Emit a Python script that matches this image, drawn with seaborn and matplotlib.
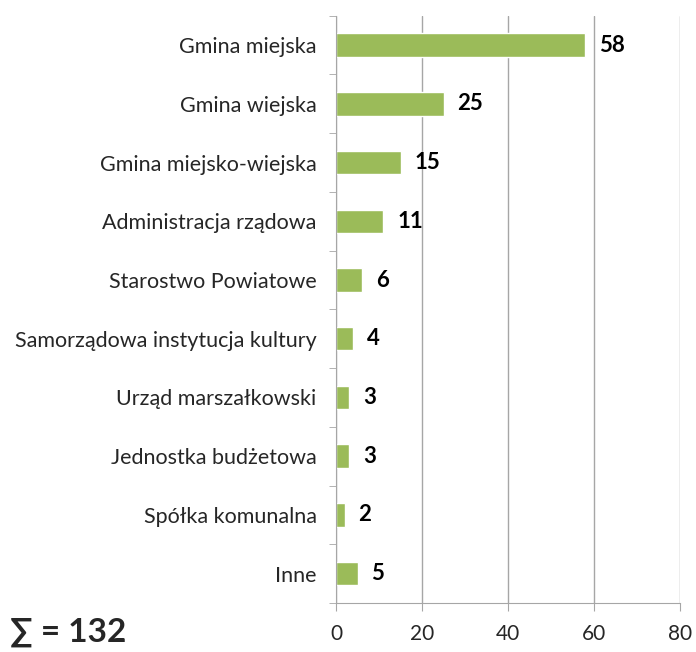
import pandas as pd
import seaborn as sns
import matplotlib.pyplot as plt

kategorie = ['Gmina miejska', 'Gmina wiejska', 'Gmina miejsko-wiejska',
             'Administracja rządowa', 'Starostwo Powiatowe',
             'Samorządowa instytucja kultury', 'Urząd marszałkowski',
             'Jednostka budżetowa', 'Spółka komunalna', 'Inne']
liczba = [58, 25, 15, 11, 6, 4, 3, 3, 2, 5]
x_ticks = [0, 20, 40, 60, 80]

sns.set_style('white')
plt.rcParams['font.family'] = ['Lato', 'DejaVu Sans']

df = pd.DataFrame({'kategoria': kategorie, 'liczba': liczba})

fig = plt.figure(figsize=(6.96, 6.52), dpi=100)
ax = fig.add_axes([0.483, 0.075, 0.494, 0.901])

sns.barplot(data=df, y='kategoria', x='liczba', orient='h', color='#9BBB59',
            saturation=1, width=0.4, ax=ax)

# etykiety wartości
for i, v in enumerate(liczba):
    ax.text(v + 3.2, i, str(v), va='center', ha='left',
            fontsize=16, fontweight='bold', color='black')

ax.set_xlim(0, 80)
ax.set_ylim(len(kategorie) - 0.5, -0.5)
ax.set_xticks(x_ticks)
ax.xaxis.grid(True, color='#A6A6A6', linewidth=1)
ax.set_axisbelow(True)
ax.set_xlabel('')
ax.set_ylabel('')

for s in ['top', 'right']:
    ax.spines[s].set_visible(False)
ax.spines['left'].set_color('#A6A6A6')
ax.spines['bottom'].set_color('#A6A6A6')

# podział kategorii na osi y
ax.set_yticks(range(len(kategorie)))
ax.set_yticklabels(kategorie, fontsize=15.5)
ax.set_yticks([i + 0.5 for i in range(-1, len(kategorie))], minor=True)
ax.tick_params(axis='y', which='major', length=0, pad=14)
ax.tick_params(axis='y', which='minor', length=5, color='#A6A6A6', left=True)
ax.tick_params(axis='x', length=6, color='#A6A6A6', labelsize=15, pad=9, bottom=True)

fig.text(0.015, 0.008, '∑ = 132', fontsize=24, fontweight='bold', ha='left', va='bottom')

fig.savefig('out.png', dpi=100)
